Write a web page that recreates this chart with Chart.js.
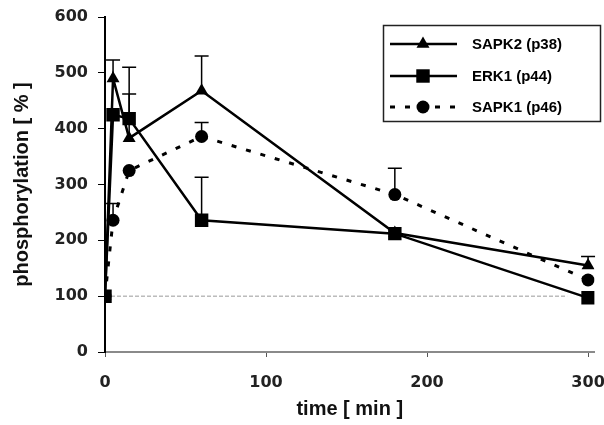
<!DOCTYPE html>
<html>
<head>
<meta charset="utf-8">
<script src="https://cdn.jsdelivr.net/npm/chart.js@4"></script>
<style>
html,body{margin:0;padding:0;background:#fff;}
#wrap{width:604px;height:425px;position:relative;}
</style>
</head>
<body>
<div id="wrap"><canvas id="c" width="604" height="425"></canvas></div>
<script>
// ---- data ----
const times = [0, 5, 15, 60, 180, 300];
const seriesNames = ['SAPK2 (p38)', 'ERK1 (p44)', 'SAPK1 (p46)'];
const sapk2 = [100, 490, 383, 468, 213, 155];
const erk1  = [100, 425, 418, 236, 212, 97];
const sapk1 = [100, 236, 325, 386, 282, 129];
// upper ends of error bars (null = none visible)
const sapk2Err = [null, 523, 462, 530, null, 171];
const erk1Err  = [null, null, 510, 313, null, null];
const sapk1Err = [null, 266, null, 411, 329, null];
const xTicks = [0, 100, 200, 300];
const yTicks = [0, 100, 200, 300, 400, 500, 600];
const refValue = 100;
const refEndTime = 287;

const pts = (vals) => times.map((t, i) => ({x: t, y: vals[i]}));

const errorBars = {
  id: 'errorBars',
  beforeDatasetsDraw(chart) {
    const ctx = chart.ctx;
    const xs = chart.scales.x, ys = chart.scales.y;
    ctx.save();
    ctx.strokeStyle = '#9a9a9a';
    ctx.lineWidth = 1;
    ctx.setLineDash([4, 2]);
    ctx.beginPath();
    ctx.moveTo(xs.getPixelForValue(0), ys.getPixelForValue(refValue));
    ctx.lineTo(xs.getPixelForValue(refEndTime), ys.getPixelForValue(refValue));
    ctx.stroke();
    ctx.setLineDash([]);
    const sets = [[sapk2, sapk2Err], [erk1, erk1Err], [sapk1, sapk1Err]];
    ctx.strokeStyle = '#000';
    ctx.lineWidth = 1.5;
    sets.forEach(([vals, errs]) => {
      errs.forEach((e, i) => {
        if (e === null) return;
        const x = xs.getPixelForValue(times[i]);
        const y0 = ys.getPixelForValue(vals[i]);
        const y1 = ys.getPixelForValue(e);
        ctx.beginPath();
        ctx.moveTo(x, y0); ctx.lineTo(x, y1);
        ctx.moveTo(x - 7, y1); ctx.lineTo(x + 7, y1);
        ctx.stroke();
      });
    });
    ctx.restore();
  }
};

const customLegend = {
  id: 'customLegend',
  afterDraw(chart) {
    const ctx = chart.ctx;
    ctx.save();
    ctx.strokeStyle = '#222';
    ctx.lineWidth = 1.5;
    ctx.strokeRect(383.5, 25.5, 217, 96);
    const rows = [44, 76, 107];
    const styles = chart.data.datasets;
    rows.forEach((y, i) => {
      const ds = styles[i];
      ctx.strokeStyle = '#000';
      ctx.lineWidth = ds.borderWidth;
      ctx.setLineDash(ds.borderDash || []);
      ctx.beginPath();
      ctx.moveTo(390, y); ctx.lineTo(457, y);
      ctx.stroke();
      ctx.setLineDash([]);
      ctx.fillStyle = '#000';
      ctx.beginPath();
      const r = ds.pointRadius;
      if (ds.pointStyle === 'circle') { ctx.arc(423, y, r, 0, Math.PI * 2); ctx.fill(); }
      else if (ds.pointStyle === 'rect') { const s = r * Math.SQRT1_2; ctx.fillRect(423 - s, y - s, 2 * s, 2 * s); }
      else {
        ctx.moveTo(423, y - r);
        ctx.lineTo(423 + r * 0.866, y + r * 0.5);
        ctx.lineTo(423 - r * 0.866, y + r * 0.5);
        ctx.closePath(); ctx.fill();
      }
      ctx.font = 'bold 15px "Liberation Sans", Arial, sans-serif';
      ctx.textBaseline = 'middle';
      ctx.textAlign = 'left';
      ctx.fillText(seriesNames[i], 472, y + 1);
    });
    ctx.restore();
  }
};

const tickFont = {family: '"DejaVu Sans", sans-serif', size: 16, weight: 'bold'};
const titleFont = {family: '"Liberation Sans", Arial, sans-serif', size: 20, weight: 'bold'};

new Chart(document.getElementById('c'), {
  type: 'line',
  data: {
    datasets: [
      {label: seriesNames[0], data: pts(sapk2), borderColor: '#000', backgroundColor: '#000',
       borderWidth: 2.5, pointStyle: 'triangle', pointRadius: 7.5, pointBorderWidth: 0, tension: 0},
      {label: seriesNames[1], data: pts(erk1), borderColor: '#000', backgroundColor: '#000',
       borderWidth: 2.5, pointStyle: 'rect', pointRadius: 9.5, pointBorderWidth: 0, tension: 0},
      {label: seriesNames[2], data: pts(sapk1), borderColor: '#000', backgroundColor: '#000',
       borderWidth: 3, borderDash: [5, 10], pointStyle: 'circle', pointRadius: 6.5, pointBorderWidth: 0, tension: 0}
    ]
  },
  options: {
    responsive: false,
    animation: false,
    layout: {padding: {left: 0, right: 0, top: 17, bottom: 0}},
    plugins: {legend: {display: false}, tooltip: {enabled: false}},
    scales: {
      x: {
        type: 'linear', min: 0, max: 304,
        afterBuildTicks: (ax) => { ax.ticks = xTicks.map(v => ({value: v})); },
        afterFit: (ax) => { ax.height = 73; ax.paddingRight = 0; ax.paddingLeft = 0; },
        border: {color: '#8a8a8a', width: 2},
        grid: {drawOnChartArea: false, drawTicks: true, tickLength: 5, color: '#555'},
        ticks: {font: tickFont, color: '#222', padding: 16, maxRotation: 0},
        title: {display: true, text: 'time [ min ]', font: titleFont, color: '#111', padding: {top: 2}}
      },
      y: {
        min: 0, max: 600,
        afterBuildTicks: (ax) => { ax.ticks = yTicks.map(v => ({value: v})); },
        afterFit: (ax) => { ax.width = 105; ax.paddingTop = 0; ax.paddingBottom = 0; },
        border: {color: '#000', width: 2},
        grid: {drawOnChartArea: false, drawTicks: true, tickLength: 7, color: '#000'},
        ticks: {font: tickFont, color: '#222', padding: 10},
        title: {display: true, text: 'phosphorylation [ % ]', font: titleFont, color: '#111', padding: {top: 10, bottom: 0}}
      }
    }
  },
  plugins: [errorBars, customLegend]
});
</script>
</body>
</html>
